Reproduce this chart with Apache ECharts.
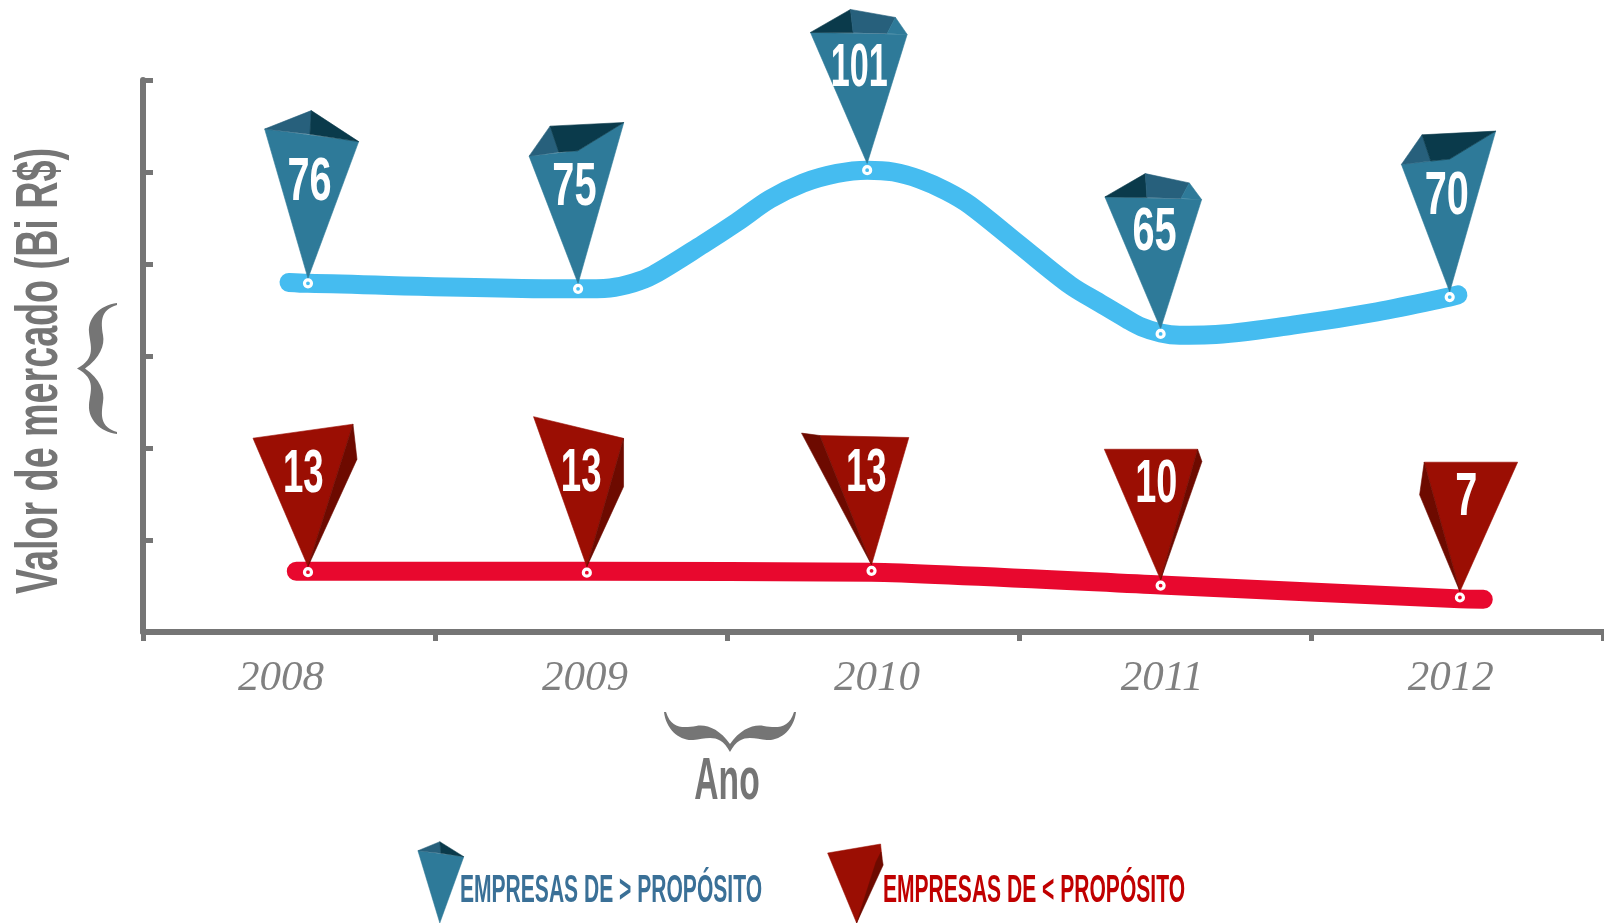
<!DOCTYPE html>
<html>
<head>
<meta charset="utf-8">
<title>Valor de mercado</title>
<style>
html,body{margin:0;padding:0;background:#fff}
#main{width:1604px;height:924px}
</style>
<script src="https://cdn.jsdelivr.net/npm/echarts@6/dist/echarts.min.js"></script>
</head>
<body>
<div id="main"></div>
<script>
// dados
var years = ['2008', '2009', '2010', '2011', '2012'];
var yearPos = [0.473, 1.514, 2.514, 3.49, 4.479];

// x = posicao ao longo do eixo (1 = uma faixa de ano)
var blueX = [0.565, 1.49, 2.48, 3.485, 4.475];
var blueValues = [75.8, 74.6, 100.4, 64.8, 72.8];
var blueLabels = ['76', '75', '101', '65', '70'];
var blueLineX = [0.5, 0.565, 1.49, 1.599, 1.68, 1.747, 1.918, 2.034, 2.147, 2.26, 2.377, 2.48, 2.57, 2.661, 2.75, 2.832, 3.003, 3.175, 3.277, 3.37, 3.42, 3.485, 3.55, 3.654, 3.938, 4.226, 4.473, 4.503];
var blueLineY = [76, 75.8, 74.6, 74.8, 75.9, 77.6, 84.3, 89.1, 94.1, 97.6, 99.7, 100.4, 100, 98.4, 95.9, 92.8, 84.1, 75.4, 71.5, 68, 66.3, 65, 64.5, 64.6, 66.7, 69.6, 72.8, 73.3];

var redX = [0.565, 1.52, 2.495, 3.485, 4.51];
var redValues = [13, 12.9, 13.3, 10.1, 7.5];
var redLabels = ['13', '13', '13', '10', '7'];
var redLineX = [0.525, 0.565, 1.52, 2.495, 3.485, 4.51, 4.59];
var redLineY = [13.2, 13.2, 13.2, 13, 10.2, 7.2, 7.1];

var AXIS = '#757575';
var BLUE = '#2e7a99', BLUE_MID = '#27607c', BLUE_DARK = '#0a3a4b';
var RED = '#9b0e03', RED_DARK = '#6d0a00';
var SANS = '"Liberation Sans",sans-serif';

// formato de cada marcador, relativo ao ponto (facetas + texto)
var bluePins = [
  {dx: 1.5, dy: -100, sx: 0.65, facets: [
    [BLUE, [[-43.3,-154.3],[50.7,-141.7],[0,-5]]],
    [BLUE_MID, [[-43.3,-154.3],[3.3,-172.7],[2,-149]]],
    [BLUE_DARK, [[3.3,-172.7],[50.7,-141.7],[2,-149]]]]},
  {dx: -3.7, dy: -101, sx: 0.65, facets: [
    [BLUE, [[-49,-132.7],[0,-138],[45.7,-166.3],[0,-5.3]]],
    [BLUE_MID, [[-49,-132.7],[-28,-162.7],[-19.3,-136.7]]],
    [BLUE_DARK, [[-28,-162.7],[45.7,-166.3],[-0.3,-138],[-19.3,-136.7]]]]},
  {dx: -8, dy: -101, sx: 0.56, facets: [
    [BLUE, [[-56.7,-137.7],[40,-135.7],[0,-6.7]]],
    [BLUE_DARK, [[-56.7,-137.7],[-16.7,-160.7],[-14,-137.3]]],
    [BLUE_MID, [[-16.7,-160.7],[28.3,-152.7],[20,-136.7],[-14,-137.3]]],
    [BLUE, [[28.3,-152.7],[40,-135.7],[20,-136.7]]]]},
  {dx: -6, dy: -100.7, sx: 0.65, facets: [
    [BLUE, [[-55.7,-137],[41,-134.3],[0,-5.3]]],
    [BLUE_DARK, [[-55.7,-137],[-15.3,-160.3],[-13.7,-136.3]]],
    [BLUE_MID, [[-15.3,-160.3],[28.7,-151],[20.3,-135.3],[-13.7,-136.3]]],
    [BLUE, [[28.7,-151],[41,-134.3],[20.3,-135.3]]]]},
  {dx: -3, dy: -100.3, sx: 0.65, facets: [
    [BLUE, [[-48.3,-132.7],[0,-138],[46,-166],[0,-5.3]]],
    [BLUE_MID, [[-48.3,-132.7],[-27.7,-162.3],[-19,-136]]],
    [BLUE_DARK, [[-27.7,-162.3],[46,-166],[0,-138],[-19,-136]]]]}
];
var redPins = [
  {dx: -4.7, dy: -97, sx: 0.6, facets: [
    [RED, [[-55,-134],[45,-148],[0,-5.7]]],
    [RED_DARK, [[45,-148],[49,-113],[0,-5.7]]]]},
  {dx: -5.7, dy: -98, sx: 0.6, facets: [
    [RED, [[-53.3,-156],[36.7,-134.3],[0,-6]]],
    [RED_DARK, [[36.7,-134.3],[36.7,-86],[0,-6]]]]},
  {dx: -5.3, dy: -97, sx: 0.6, facets: [
    [RED, [[-51.7,-135.3],[37.3,-133.3],[0,-6]]],
    [RED_DARK, [[-70,-137.7],[-51.7,-135.3],[0,-6]]]]},
  {dx: -4.3, dy: -100, sx: 0.62, facets: [
    [RED, [[-56.3,-136.3],[37,-136.3],[0,-5.7]]],
    [RED_DARK, [[37,-136.3],[41.3,-124],[0,-5.7]]]]},
  {dx: 6.3, dy: -99, sx: 0.65, facets: [
    [RED, [[-35.7,-135.3],[57.7,-135.3],[0,-6]]],
    [RED_DARK, [[-35.7,-135.3],[-40.3,-102.7],[0,-6]]]]}
];

function pinRender(pins, labels, lineColor) {
  return function (params, api) {
    var p = api.coord([api.value(0), api.value(1)]);
    var pin = pins[params.dataIndex];
    var children = pin.facets.map(function (f) {
      return {
        type: 'polygon',
        shape: {points: f[1].map(function (q) { return [p[0] + q[0], p[1] + q[1]]; })},
        style: {fill: f[0], stroke: f[0], lineWidth: 0.6}
      };
    });
    children.push({
      type: 'circle',
      shape: {cx: p[0], cy: p[1], r: 3.5},
      style: {fill: lineColor, stroke: '#fff', lineWidth: 3.2}
    });
    children.push({
      type: 'text',
      x: p[0] + pin.dx,
      y: p[1] + pin.dy,
      scaleX: pin.sx,
      style: {
        text: labels[params.dataIndex],
        fill: '#fff',
        font: 'bold 61px ' + SANS,
        align: 'center',
        verticalAlign: 'middle'
      }
    });
    return {type: 'group', children: children};
  };
}

function pairs(xs, ys) {
  return xs.map(function (x, i) { return [x, ys[i]]; });
}

// as duas chaves: caminho local, encaixado no retangulo de cada uma
var braceV = 'M40 0C23 2 11 15 12 29C13 42 20 55 0 65.5C20 76 13 89 12 102C11 116 23 129 40 131L40 129C23 124 24 112 26 99C28 89 23 76 8 65.5C23 55 28 42 26 32C24 19 23 7 40 2Z';
var braceH = 'M0 0C2 17 15 29 29 28C42 27 55 20 65.5 40C76 20 89 27 102 28C116 29 129 17 131 0L129 0C124 17 112 16 99 14C89 12 76 17 65.5 32C55 17 42 12 32 14C19 16 7 17 2 0Z';

function poly(points, fill) {
  return {type: 'polygon', silent: true, shape: {points: points}, style: {fill: fill, stroke: fill, lineWidth: 0.5}};
}

function label(text, x, y, font, fill, scaleX, rotation) {
  return {
    type: 'text', silent: true, x: x, y: y, scaleX: scaleX, rotation: rotation || 0,
    style: {text: text, font: font, fill: fill, align: 'center', verticalAlign: 'middle'}
  };
}

var chart = echarts.init(document.getElementById('main'), null, {renderer: 'canvas'});
chart.setOption({
  animation: false,
  backgroundColor: '#fff',
  grid: {left: 143, right: 1, top: 80, bottom: 292},
  xAxis: [{
    type: 'category',
    data: years,
    axisLine: {lineStyle: {color: AXIS, width: 6}},
    axisTick: {show: true, interval: 0, length: 9, lineStyle: {color: AXIS, width: 5}},
    axisLabel: {show: false},
    splitLine: {show: false}
  }, {
    type: 'value',
    position: 'bottom',
    min: 0,
    max: 5,
    axisLine: {show: false},
    axisTick: {show: false},
    splitLine: {show: false},
    axisLabel: {
      customValues: yearPos,
      margin: 25,
      color: '#808080',
      fontFamily: '"Liberation Serif",serif',
      fontStyle: 'italic',
      fontSize: 43,
      formatter: function (v) { return years[yearPos.indexOf(v)]; }
    }
  }],
  yAxis: {
    type: 'value',
    min: 0,
    max: 120,
    interval: 20,
    axisLine: {show: true, lineStyle: {color: AXIS, width: 6}},
    axisTick: {show: true, inside: true, length: 10, lineStyle: {color: AXIS, width: 5}},
    axisLabel: {show: false},
    splitLine: {show: false}
  },
  series: [{
    name: 'Empresas de > propósito',
    type: 'line',
    xAxisIndex: 1,
    data: pairs(blueLineX, blueLineY),
    smooth: 0.33,
    showSymbol: false,
    lineStyle: {color: '#45bcf0', width: 19, cap: 'round', join: 'round'},
    z: 2
  }, {
    name: 'Empresas de < propósito',
    type: 'line',
    xAxisIndex: 1,
    data: pairs(redLineX, redLineY),
    smooth: 0.2,
    showSymbol: false,
    lineStyle: {color: '#e8082e', width: 19, cap: 'round', join: 'round'},
    z: 2
  }, {
    type: 'custom',
    xAxisIndex: 1,
    data: pairs(blueX, blueValues),
    renderItem: pinRender(bluePins, blueLabels, '#45bcf0'),
    clip: false,
    z: 3
  }, {
    type: 'custom',
    xAxisIndex: 1,
    data: pairs(redX, redValues),
    renderItem: pinRender(redPins, redLabels, '#e8082e'),
    clip: false,
    z: 3
  }, {
    type: 'custom',
    coordinateSystem: 'none',
    data: [[0]],
    silent: true,
    renderItem: function () {
      return {type: 'group', children: [
        {type: 'path', shape: {pathData: braceV, x: 77, y: 303, width: 40, height: 131, layout: 'cover'}, style: {fill: AXIS}},
        {type: 'path', shape: {pathData: braceH, x: 664, y: 712, width: 132, height: 40, layout: 'cover'}, style: {fill: AXIS}}
      ]};
    }
  }],
  graphic: {elements: [
    label('Valor de mercado (Bi R$)', 40, 371, 'bold 60px ' + SANS, AXIS, 0.628, Math.PI / 2),
    label('Ano', 727, 782, 'bold 60px ' + SANS, AXIS, 0.56),
    poly([[417.9,850.7],[463.8,856.7],[439.8,923]], BLUE),
    poly([[417.9,850.7],[439.8,841.7],[440.8,853.3]], BLUE_MID),
    poly([[439.8,841.7],[463.8,856.7],[440.8,853.3]], BLUE_DARK),
    label('EMPRESAS DE > PROPÓSITO', 611, 892, 'bold 38px ' + SANS, '#3a7097', 0.554),
    poly([[827.6,853],[880.6,844],[882,858],[856.6,923]], RED),
    poly([[881,852],[883.2,865],[856.6,923],[876,862]], RED_DARK),
    label('EMPRESAS DE < PROPÓSITO', 1034, 892, 'bold 38px ' + SANS, '#c00000', 0.554)
  ]}
});
</script>
</body>
</html>
